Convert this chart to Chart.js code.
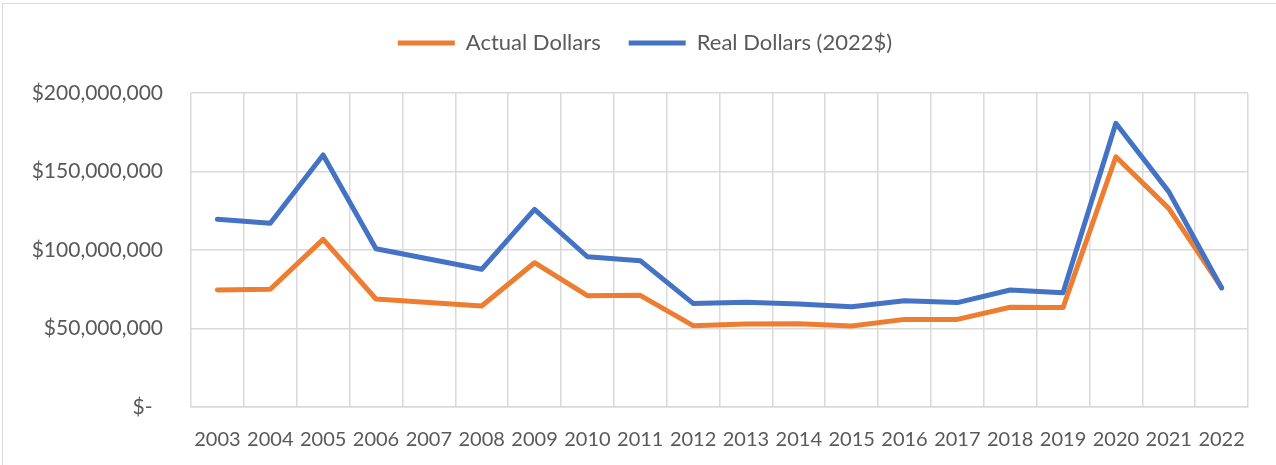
<!DOCTYPE html>
<html>
<head>
<meta charset="utf-8">
<script src="https://cdn.jsdelivr.net/npm/chart.js@4.4.1/dist/chart.umd.min.js"></script>
<style>
  html, body { margin: 0; padding: 0; background: #fff; }
  #frame {
    position: absolute; left: 2px; top: 3px; width: 1300px; height: 500px;
    border-left: 1.5px solid #d9d9d9; border-top: 1.5px solid #d9d9d9;
  }
  #wrap { position: absolute; left: 0; top: 0; width: 1276px; height: 465px; }
</style>
</head>
<body>
<div id="frame"></div>
<div id="wrap"><canvas id="moneyChart" width="1276" height="465"></canvas></div>
<script>
// =========================
// series values (dollars per year)
// =========================
const years = ['2003', '2004', '2005', '2006', '2007', '2008', '2009', '2010', '2011', '2012',
               '2013', '2014', '2015', '2016', '2017', '2018', '2019', '2020', '2021', '2022'];

const actualDollars = [74.5, 75.0, 106.8, 68.8, 66.5, 64.3, 91.9, 70.9, 71.1, 51.8,
                       52.9, 53.1, 51.6, 55.8, 55.8, 63.5, 63.3, 159.4, 126.5, 76.0]
                       .map((v) => v * 1e6);

const realDollars = [119.6, 117.0, 160.5, 100.8, 94.3, 87.7, 125.9, 95.7, 93.2, 66.0,
                     66.7, 65.6, 63.9, 67.7, 66.5, 74.5, 72.8, 180.7, 137.2, 75.8]
                     .map((v) => v * 1e6);

const yTicks = [0, 50e6, 100e6, 150e6, 200e6];

const seriesNames = ['Actual Dollars', 'Real Dollars (2022$)'];
const seriesColors = ['#ED7D31', '#4472C4'];

// =========================
// helpers
// =========================
function dollarLabel(v) {
    if (v === 0) return '$-\u2002';
    return '$' + v.toLocaleString('en-US');
}

// extra room under the legend
const legendGap = {
    id: 'legendGap',
    beforeInit(chart) {
        const fit = chart.legend.fit;
        chart.legend.fit = function () {
            fit.bind(chart.legend)();
            this.height += 29;
        };
    }
};

const family = 'Lato, "Open Sans", sans-serif';

// =========================
// build the chart
// =========================
const ctx = document.getElementById('moneyChart').getContext('2d');

const chart = new Chart(ctx, {
    type: 'line',
    data: {
        labels: years,
        datasets: [actualDollars, realDollars].map((values, i) => ({
            label: seriesNames[i],
            data: values,
            borderColor: seriesColors[i],
            backgroundColor: seriesColors[i],
            borderWidth: 5,
            borderCapStyle: 'round',
            borderJoinStyle: 'round',
            pointRadius: 0,
            pointHoverRadius: 0,
            tension: 0,
            fill: false,
            order: i === 0 ? 1 : 0
        }))
    },
    options: {
        responsive: false,
        animation: false,
        layout: { padding: { top: 4, right: 0, left: 14, bottom: 0 } },
        plugins: {
            legend: {
                display: true,
                position: 'top',
                labels: {
                    font: { family: family, size: 22 },
                    color: '#595959',
                    usePointStyle: true,
                    pointStyle: 'line',
                    pointStyleWidth: 57,
                    padding: 28,
                    sort: (a, b) => a.datasetIndex - b.datasetIndex
                }
            },
            tooltip: { enabled: false }
        },
        scales: {
            x: {
                offset: true,
                afterFit: (scale) => { scale.height = 58; },
                grid: { offset: true, color: '#d9d9d9', lineWidth: 1.5, drawTicks: false },
                border: { color: '#d9d9d9', width: 1.5 },
                ticks: { font: { family: family, size: 20 }, color: '#595959', padding: 21, maxRotation: 0, autoSkip: false }
            },
            y: {
                min: 0,
                max: 200e6,
                afterBuildTicks: (scale) => { scale.ticks = yTicks.map((v) => ({ value: v })); },
                afterFit: (scale) => { scale.width = 177; },
                grid: { color: '#d9d9d9', lineWidth: 1.5, drawTicks: false },
                border: { display: false },
                ticks: { font: { family: family, size: 21 }, color: '#595959', padding: 28, callback: dollarLabel }
            },
            // blank strip on the right of the plot
            side: {
                position: 'right',
                afterFit: (scale) => { scale.width = 28; },
                grid: { display: false },
                border: { display: false },
                ticks: { display: false }
            }
        }
    },
    plugins: [legendGap]
});
</script>
</body>
</html>
